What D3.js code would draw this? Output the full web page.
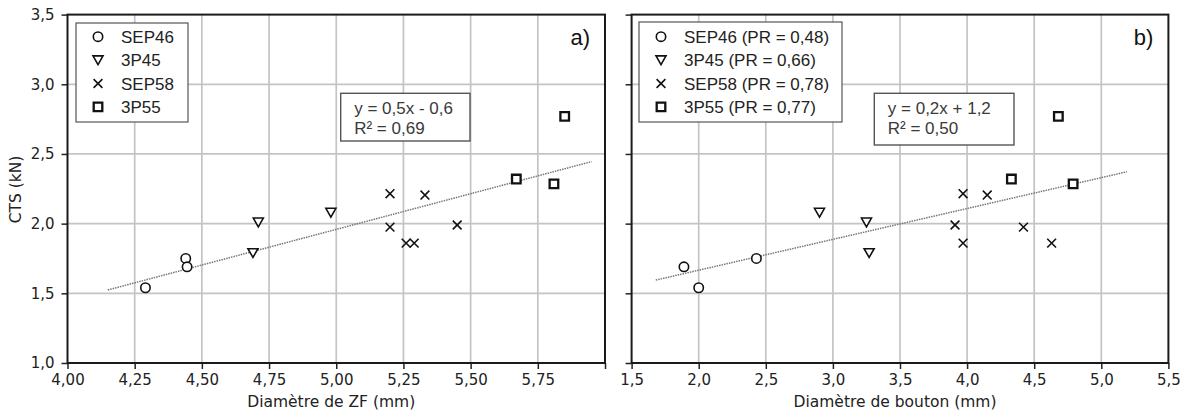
<!DOCTYPE html>
<html><head><meta charset="utf-8">
<script src="https://cdn.jsdelivr.net/npm/d3@7"></script>
<style>
html,body{margin:0;padding:0;background:#fff;}
svg{display:block;}
</style></head>
<body>
<script>
// ---- Data ----
const seriesNames = ["SEP46", "3P45", "SEP58", "3P55"];
const seriesPR = ["0,48", "0,66", "0,78", "0,77"];
const seriesSymbols = ["circle", "triangleDown", "cross", "square"];

const ctsSEP46 = [1.54, 1.75, 1.69];
const zfSEP46 = [4.29, 4.44, 4.445];
const boutonSEP46 = [2.00, 2.43, 1.89];

const cts3P45 = [2.01, 1.79, 2.08];
const zf3P45 = [4.71, 4.69, 4.98];
const bouton3P45 = [3.25, 3.27, 2.90];

const ctsSEP58 = [2.215, 2.205, 1.99, 1.975, 1.86, 1.86];
const zfSEP58 = [5.20, 5.33, 5.45, 5.20, 5.26, 5.29];
const boutonSEP58 = [3.97, 4.15, 3.91, 4.42, 3.97, 4.63];

const cts3P55 = [2.32, 2.285, 2.77];
const zf3P55 = [5.67, 5.81, 5.85];
const bouton3P55 = [4.33, 4.79, 4.68];

const trendZfX = [4.15, 5.95];
const trendZfY = [1.524, 2.445];
const trendBoutonX = [1.68, 5.19];
const trendBoutonY = [1.595, 2.372];

const yTicks = [1.0, 1.5, 2.0, 2.5, 3.0, 3.5];
const zfTicks = [4.00, 4.25, 4.50, 4.75, 5.00, 5.25, 5.50, 5.75, 6.00];
const boutonTicks = [1.5, 2.0, 2.5, 3.0, 3.5, 4.0, 4.5, 5.0, 5.5];

const eqZf = ["y = 0,5x - 0,6", "R² = 0,69"];
const eqBouton = ["y = 0,2x + 1,2", "R² = 0,50"];

// ---- Drawing ----
const W = 1186, H = 414;
const svg = d3.select("body").append("svg").attr("width", W).attr("height", H);
svg.append("rect").attr("width", W).attr("height", H).attr("fill", "#fff");

const TOP = 14.6, BOTTOM = 363;
const y = d3.scaleLinear().domain([1.0, 3.5]).range([BOTTOM, TOP]);
const comma = f => v => d3.format(f)(v).replace(".", ",");

function markerPath(sym) {
  const s = 4.4;
  if (sym === "triangleDown") return `M${-5},${-4.2}L${5},${-4.2}L0,${4.6}Z`;
  if (sym === "cross") return `M${-s},${-s}L${s},${s}M${-s},${s}L${s},${-s}`;
  if (sym === "square") return `M${-4.3},${-4.3}H4.3V4.3H-4.3Z`;
  return null;
}
function drawMarker(g, sym, cx, cy) {
  if (sym === "circle") {
    g.append("circle").attr("cx", cx).attr("cy", cy).attr("r", 4.7)
      .attr("fill", "#fff").attr("stroke", "#111").attr("stroke-width", 1.6);
  } else {
    g.append("path").attr("d", markerPath(sym))
      .attr("transform", `translate(${cx},${cy})`)
      .attr("fill", sym === "cross" ? "none" : "#fff")
      .attr("stroke", "#111")
      .attr("stroke-width", sym === "square" ? 2.3 : 1.6);
  }
}

function panel(opts) {
  const x = d3.scaleLinear().domain(opts.xDomain).range(opts.xRange);
  const g = svg.append("g");
  const [x0, x1] = opts.xRange;

  // grid
  g.append("g").selectAll("line").data(opts.xTicks.slice(1, -1)).join("line")
    .attr("x1", d => x(d)).attr("x2", d => x(d)).attr("y1", TOP).attr("y2", BOTTOM)
    .attr("stroke", "#c4c4c4").attr("stroke-width", 1.7);
  g.append("g").selectAll("line").data(yTicks.slice(1, -1)).join("line")
    .attr("x1", x0).attr("x2", x1).attr("y1", d => y(d)).attr("y2", d => y(d))
    .attr("stroke", "#c4c4c4").attr("stroke-width", 1.7);

  // x axis
  const xa = g.append("g").attr("transform", `translate(0,${BOTTOM})`)
    .call(d3.axisBottom(x).tickValues(opts.xTicks).tickSize(6).tickPadding(5)
      .tickFormat((d, i) => opts.hideLastLabel && i === opts.xTicks.length - 1 ? "" : comma(opts.xFmt)(d)));
  xa.select(".domain").remove();
  xa.selectAll("line").attr("stroke", "#222").attr("stroke-width", 1.5);
  xa.selectAll("text").attr("font-family", "DejaVu Sans").attr("font-size", 15).attr("fill", "#222");

  // y axis
  const ya = g.append("g").attr("transform", `translate(${x0},0)`)
    .call(d3.axisLeft(y).tickValues(yTicks).tickSize(6).tickPadding(7)
      .tickFormat(opts.yLabels ? comma(".1f") : ""));
  ya.select(".domain").remove();
  ya.selectAll("line").attr("stroke", "#222").attr("stroke-width", 1.5);
  ya.selectAll("text").attr("font-family", "DejaVu Sans").attr("font-size", 15).attr("fill", "#222");

  // frame
  g.append("rect").attr("x", x0).attr("y", TOP).attr("width", x1 - x0).attr("height", BOTTOM - TOP)
    .attr("fill", "none").attr("stroke", "#1a1a1a").attr("stroke-width", 2);

  // trend line
  g.append("line")
    .attr("x1", x(opts.trendX[0])).attr("y1", y(opts.trendY[0]))
    .attr("x2", x(opts.trendX[1])).attr("y2", y(opts.trendY[1]))
    .attr("stroke", "#777").attr("stroke-width", 1.5).attr("stroke-dasharray", "1.5,1");

  // points
  opts.series.forEach((s, i) => {
    s.x.forEach((xv, j) => drawMarker(g, seriesSymbols[i], x(xv), y(s.y[j])));
  });

  // equation box
  const eb = opts.eqBox;
  g.append("rect").attr("x", eb[0]).attr("y", eb[1]).attr("width", eb[2]).attr("height", eb[3])
    .attr("fill", "#fff").attr("stroke", "#555").attr("stroke-width", 1.4);
  opts.eq.forEach((t, i) => {
    g.append("text").attr("x", eb[0] + 13.5).attr("y", 113.5 + i * 20)
      .attr("font-family", "Liberation Sans, Arial").attr("font-size", 17).attr("fill", "#3a3a3a").text(t);
  });

  // legend
  const lb = opts.legBox;
  g.append("rect").attr("x", lb[0]).attr("y", lb[1]).attr("width", lb[2]).attr("height", lb[3])
    .attr("fill", "#fff").attr("stroke", "#555").attr("stroke-width", 1.2);
  opts.legLabels.forEach((t, i) => {
    const cy = 36.7 + i * 23.4;
    drawMarker(g, seriesSymbols[i], lb[0] + 22, cy);
    g.append("text").attr("x", lb[0] + 45).attr("y", cy + 6)
      .attr("font-family", "Liberation Sans, Arial").attr("font-size", 17).attr("fill", "#222").text(t);
  });

  // panel tag
  g.append("text").attr("x", x1 - 15).attr("y", 45).attr("text-anchor", "end")
    .attr("font-family", "Liberation Sans, Arial").attr("font-size", 22).attr("fill", "#111").text(opts.tag);

  // x title
  g.append("text").attr("x", (x0 + x1) / 2 - 5).attr("y", 407).attr("text-anchor", "middle")
    .attr("font-family", "DejaVu Sans").attr("font-size", 15.5).attr("fill", "#222").text(opts.xTitle);
}

panel({
  xDomain: [4.0, 6.0], xRange: [67.5, 605], xTicks: zfTicks, xFmt: ".2f", hideLastLabel: true,
  yLabels: true,
  series: [
    {x: zfSEP46, y: ctsSEP46}, {x: zf3P45, y: cts3P45},
    {x: zfSEP58, y: ctsSEP58}, {x: zf3P55, y: cts3P55}
  ],
  trendX: trendZfX, trendY: trendZfY,
  eq: eqZf, eqBox: [340.7, 93.3, 129.3, 47.7],
  legLabels: seriesNames, legBox: [76, 23, 112, 99],
  tag: "a)", xTitle: "Diamètre de ZF (mm)"
});

panel({
  xDomain: [1.5, 5.5], xRange: [631.6, 1168.4], xTicks: boutonTicks, xFmt: ".1f", hideLastLabel: false,
  yLabels: false,
  series: [
    {x: boutonSEP46, y: ctsSEP46}, {x: bouton3P45, y: cts3P45},
    {x: boutonSEP58, y: ctsSEP58}, {x: bouton3P55, y: cts3P55}
  ],
  trendX: trendBoutonX, trendY: trendBoutonY,
  eq: eqBouton, eqBox: [874.3, 93.3, 139.7, 51.7],
  legLabels: seriesNames.map((n, i) => `${n} (PR = ${seriesPR[i]})`), legBox: [639, 22, 203, 100],
  tag: "b)", xTitle: "Diamètre de bouton (mm)"
});

// y title
svg.append("text").attr("transform", "translate(20.5,189.5) rotate(-90)").attr("text-anchor", "middle")
  .attr("font-family", "DejaVu Sans").attr("font-size", 15.5).attr("fill", "#222").text("CTS (kN)");
</script>
</body></html>
